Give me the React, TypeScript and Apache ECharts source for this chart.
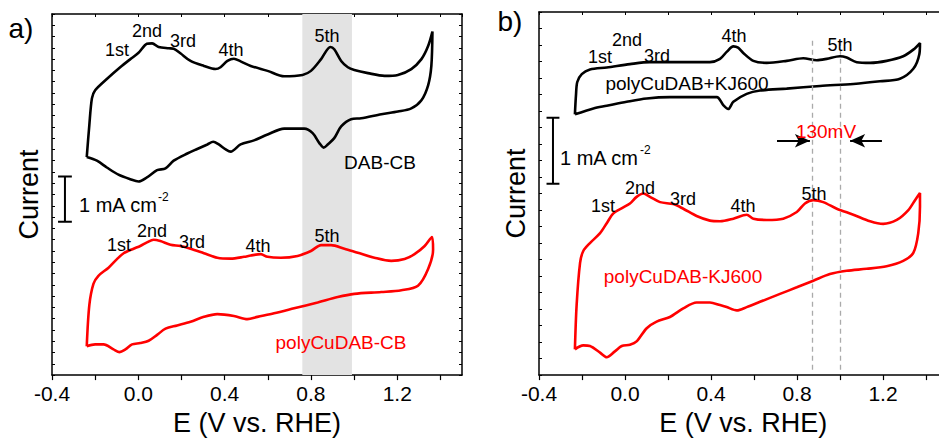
import React, { useEffect, useRef } from "react";
import * as echarts from "echarts";

// ---------- data (E in V vs. RHE, current in mA cm^-2, vertically offset) ----------
// panel a) DAB-CB (black CV loop)
const dabCB: [number, number][] = [
  [-0.239, 4.83], [-0.227, 5.54], [-0.215, 6.13], [-0.2, 6.31], [-0.146, 6.56], [-0.084, 6.82],
  [-0.037, 7.0], [0.001, 7.14], [0.04, 7.34], [0.064, 7.35], [0.094, 7.27], [0.141, 7.24],
  [0.164, 7.23], [0.195, 7.13], [0.242, 6.96], [0.304, 6.85], [0.358, 6.78], [0.381, 6.82],
  [0.413, 6.96], [0.443, 7.01], [0.474, 6.95], [0.521, 6.85], [0.599, 6.74], [0.676, 6.62],
  [0.761, 6.65], [0.8, 6.74], [0.847, 7.0], [0.89, 7.27], [0.908, 7.22], [0.94, 6.96],
  [0.971, 6.82], [1.001, 6.76], [1.064, 6.69], [1.141, 6.63], [1.203, 6.65], [1.265, 6.78],
  [1.312, 7.0], [1.343, 7.29], [1.363, 7.61],
  [1.358, 6.85], [1.343, 6.42], [1.312, 6.09], [1.265, 5.91], [1.203, 5.84], [1.126, 5.78],
  [1.033, 5.69], [0.986, 5.67], [0.94, 5.51], [0.908, 5.25], [0.878, 5.11], [0.859, 5.04],
  [0.839, 5.14], [0.808, 5.36], [0.769, 5.46], [0.676, 5.46], [0.599, 5.33], [0.536, 5.2],
  [0.474, 5.11], [0.428, 4.95], [0.405, 5.0], [0.373, 5.11], [0.347, 5.17], [0.32, 5.11],
  [0.273, 5.01], [0.227, 4.91], [0.164, 4.75], [0.126, 4.58], [0.087, 4.54], [0.04, 4.38],
  [0.001, 4.29], [-0.037, 4.34], [-0.092, 4.44], [-0.146, 4.6], [-0.192, 4.75], [-0.239, 4.83],
];
// panel a) polyCuDAB-CB (red CV loop)
const polyCuDABCB: [number, number][] = [
  [-0.239, 0.64], [-0.227, 1.55], [-0.208, 2.02], [-0.185, 2.2], [-0.138, 2.38], [-0.099, 2.57],
  [-0.068, 2.7], [-0.022, 2.8], [0.009, 2.86], [0.04, 2.94], [0.071, 3.0], [0.102, 2.97],
  [0.149, 2.89], [0.195, 2.86], [0.242, 2.8], [0.304, 2.7], [0.366, 2.6], [0.428, 2.58],
  [0.49, 2.62], [0.521, 2.65], [0.567, 2.68], [0.599, 2.62], [0.66, 2.6], [0.738, 2.64],
  [0.8, 2.75], [0.847, 2.88], [0.893, 2.88], [0.955, 2.8], [1.017, 2.71], [1.094, 2.6],
  [1.172, 2.53], [1.234, 2.57], [1.28, 2.68], [1.327, 2.86], [1.361, 3.06],
  [1.366, 2.78], [1.343, 2.35], [1.296, 1.98], [1.219, 1.88], [1.126, 1.84], [1.001, 1.8],
  [0.924, 1.73], [0.831, 1.61], [0.722, 1.48], [0.629, 1.37], [0.552, 1.29], [0.506, 1.24],
  [0.443, 1.31], [0.366, 1.35], [0.304, 1.29], [0.242, 1.18], [0.18, 1.1], [0.126, 1.03],
  [0.087, 0.89], [0.048, 0.76], [0.009, 0.71], [-0.029, 0.68], [-0.06, 0.57], [-0.087, 0.51],
  [-0.115, 0.57], [-0.161, 0.68], [-0.2, 0.68], [-0.239, 0.64],
];
// panel b) polyCuDAB+KJ600 (black CV loop)
const polyCuDABplusKJ: [number, number][] = [
  [-0.233, 3.95], [-0.228, 4.24], [-0.222, 4.44], [-0.201, 4.56], [-0.163, 4.63], [-0.085, 4.66],
  [0.023, 4.71], [0.116, 4.74], [0.256, 4.74], [0.395, 4.74], [0.442, 4.79], [0.474, 4.9],
  [0.504, 4.98], [0.526, 4.96], [0.55, 4.88], [0.597, 4.76], [0.659, 4.73], [0.752, 4.76],
  [0.829, 4.8], [0.892, 4.77], [0.938, 4.79], [1.0, 4.83], [1.031, 4.81], [1.078, 4.74],
  [1.14, 4.73], [1.217, 4.76], [1.294, 4.83], [1.341, 4.93], [1.372, 5.03],
  [1.369, 4.86], [1.341, 4.64], [1.279, 4.49], [1.186, 4.45], [1.062, 4.41], [0.907, 4.38],
  [0.752, 4.34], [0.628, 4.31], [0.566, 4.26], [0.504, 4.14], [0.48, 4.03], [0.457, 4.09],
  [0.427, 4.21], [0.333, 4.21], [0.209, 4.21], [0.101, 4.19], [0.008, 4.14], [-0.085, 4.08],
  [-0.147, 4.04], [-0.233, 3.95],
];
// panel b) polyCuDAB-KJ600 (red CV loop)
const polyCuDABKJ: [number, number][] = [
  [-0.233, 0.39], [-0.225, 1.06], [-0.209, 1.7], [-0.194, 1.88], [-0.163, 2.0], [-0.116, 2.15],
  [-0.085, 2.3], [-0.054, 2.45], [-0.008, 2.54], [0.023, 2.6], [0.054, 2.7], [0.085, 2.75],
  [0.116, 2.7], [0.163, 2.62], [0.225, 2.59], [0.271, 2.52], [0.333, 2.41], [0.395, 2.34],
  [0.442, 2.33], [0.504, 2.37], [0.566, 2.43], [0.597, 2.37], [0.659, 2.35], [0.736, 2.37],
  [0.799, 2.47], [0.837, 2.6], [0.876, 2.65], [0.922, 2.62], [0.985, 2.52], [1.062, 2.43],
  [1.14, 2.33], [1.201, 2.29], [1.264, 2.35], [1.318, 2.5], [1.349, 2.65], [1.372, 2.76],
  [1.372, 2.55], [1.364, 2.15], [1.341, 1.85], [1.294, 1.73], [1.217, 1.65], [1.124, 1.61],
  [1.031, 1.58], [0.953, 1.53], [0.876, 1.43], [0.799, 1.33], [0.721, 1.23], [0.628, 1.11],
  [0.566, 1.03], [0.52, 0.98], [0.473, 1.03], [0.442, 1.06], [0.395, 1.1], [0.333, 1.1],
  [0.271, 1.01], [0.209, 0.88], [0.147, 0.81], [0.101, 0.71], [0.054, 0.51], [0.023, 0.46],
  [-0.015, 0.44], [-0.047, 0.36], [-0.085, 0.27], [-0.116, 0.34], [-0.163, 0.44], [-0.194, 0.45],
  [-0.233, 0.39],
];
// shaded 5th-peak window (panel a) and 5th-peak positions (panel b)
const band5th = [0.76, 0.99];
const peak5thE = [0.87, 1.0]; // 130 mV shift
const scaleBarLength = 1; // mA cm^-2
const peakLabels = ["1st", "2nd", "3rd", "4th", "5th"];

const FONT = "'Liberation Sans', Arial, Helvetica, sans-serif";

function xAxisLabel(v: number) {
  if (Math.abs(v) < 1e-9) return "0.0";
  const k = Math.round((v + 0.4) / 0.2);
  return k % 2 === 0 && v < 1.3 ? v.toFixed(1) : "";
}

function axesFor(grid: number, yMax: number) {
  const xb = {
    type: "value", gridIndex: grid, position: "bottom", min: -0.4, max: 1.5, interval: 0.2,
    axisLine: { show: true, onZero: false, lineStyle: { color: "#000", width: 1.5 } },
    axisTick: { show: true, inside: false, length: 5, lineStyle: { color: "#000", width: 1.2 } },
    axisLabel: { show: true, fontSize: 21, color: "#000", fontFamily: FONT, margin: 8, formatter: xAxisLabel, showMaxLabel: false },
    splitLine: { show: false },
    name: "E (V vs. RHE)", nameLocation: "middle", nameGap: 33,
    nameTextStyle: { fontSize: 27, color: "#000", fontFamily: FONT },
  };
  const xt = {
    type: "value", gridIndex: grid, position: "top", min: -0.4, max: 1.5, interval: 0.2,
    axisLine: { show: true, onZero: false, lineStyle: { color: "#000", width: 1.5 } },
    axisTick: { show: true, inside: true, length: 3, lineStyle: { color: "#000", width: 1 } },
    axisLabel: { show: false }, splitLine: { show: false },
  };
  const yl = {
    type: "value", gridIndex: grid, position: "left", min: 0, max: yMax, interval: 0.25,
    axisLine: { show: true, onZero: false, lineStyle: { color: "#000", width: 1.5 } },
    axisTick: { show: true, inside: true, length: 3, lineStyle: { color: "#000", width: 1 } },
    axisLabel: { show: false }, splitLine: { show: false },
    name: "Current", nameLocation: "middle", nameGap: 10,
    nameTextStyle: { fontSize: 27, color: "#000", fontFamily: FONT },
  };
  const yr = {
    type: "value", gridIndex: grid, position: "right", min: 0, max: yMax, interval: 0.25,
    axisLine: { show: true, onZero: false, lineStyle: { color: "#000", width: 1.5 } },
    axisTick: { show: true, inside: true, length: 3, lineStyle: { color: "#000", width: 1 } },
    axisLabel: { show: false }, splitLine: { show: false },
  };
  return { x: [xb, xt], y: [yl, yr] };
}

function txt(text: string, x: number, y: number, size: number, color = "#000", align = "center") {
  return {
    type: "text", x, y, silent: true, z: 100,
    style: {
      text, fill: color, fontSize: size, fontFamily: FONT,
      align, textAlign: align, verticalAlign: "middle", textVerticalAlign: "middle",
    },
  };
}

function scaleBar(xc: number, half: number, y0: number) {
  const y1 = y0 + scaleBarLength;
  return [
    [xc - half, y1], [xc + half, y1], [xc, y1], [xc, y0], [xc - half, y0], [xc + half, y0],
  ];
}

export default function App() {
  const ref = useRef<HTMLDivElement>(null);
  useEffect(() => {
    document.body.style.margin = "0";
    const chart = echarts.init(ref.current!, null, { renderer: "svg" });
    const a = axesFor(0, 8);
    const b = axesFor(1, 5.5);
    const line = (color: string, w = 2.6) => ({ color, width: w });
    const labelsA1 = [[117, 50], [147, 31], [183, 41], [231, 50], [327, 36]];
    const labelsA2 = [[119, 245], [152, 231], [192, 242], [258, 246], [327, 236]];
    const labelsB1 = [[600, 57], [627, 40], [657, 56], [734, 36], [840, 45]];
    const labelsB2 = [[603, 206], [640, 188], [683, 199], [743, 206], [814, 194]];
    const option: any = {
      animation: false,
      backgroundColor: "#fff",
      grid: [
        { left: 52, top: 14, width: 410, height: 367 },
        { left: 539, top: 12, width: 408.5, height: 369 },
      ],
      xAxis: [a.x[0], a.x[1], b.x[0], b.x[1]],
      yAxis: [a.y[0], a.y[1], b.y[0], b.y[1]],
      series: [
        {
          type: "line", name: "DAB-CB", xAxisIndex: 0, yAxisIndex: 0, data: dabCB,
          smooth: 0.3, symbol: "none", lineStyle: line("#000"), z: 3,
          markArea: {
            silent: true, itemStyle: { color: "#e3e3e3" },
            data: [[{ xAxis: band5th[0] }, { xAxis: band5th[1] }]],
          },
        },
        {
          type: "line", name: "polyCuDAB-CB", xAxisIndex: 0, yAxisIndex: 0, data: polyCuDABCB,
          smooth: 0.3, symbol: "none", lineStyle: line("#ff0000"), z: 3,
        },
        {
          type: "line", name: "scale a", xAxisIndex: 0, yAxisIndex: 0, data: scaleBar(-0.34, 0.032, 3.4),
          symbol: "none", lineStyle: line("#000", 2), z: 3,
        },
        {
          type: "line", name: "polyCuDAB+KJ600", xAxisIndex: 2, yAxisIndex: 2, data: polyCuDABplusKJ,
          smooth: 0.3, symbol: "none", lineStyle: line("#000"), z: 3,
        },
        {
          type: "line", name: "polyCuDAB-KJ600", xAxisIndex: 2, yAxisIndex: 2, data: polyCuDABKJ,
          smooth: 0.3, symbol: "none", lineStyle: line("#ff0000"), z: 3,
          markLine: {
            silent: true, symbol: ["none", "none"], label: { show: false },
            data: [
              [
                { coord: [peak5thE[0], 0.08], lineStyle: { color: "#aaaaaa", type: [5, 4], width: 1.3 } },
                { coord: [peak5thE[0], 5.08] },
              ],
              [
                { coord: [peak5thE[1], 0.08], lineStyle: { color: "#aaaaaa", type: [5, 4], width: 1.3 } },
                { coord: [peak5thE[1], 5.08] },
              ],
              [
                { coord: [0.707, 3.55], symbol: "none", lineStyle: { color: "#000", type: "solid", width: 2 } },
                { coord: [peak5thE[0] - 0.01, 3.55], symbol: "arrow", symbolSize: [10, 15] },
              ],
              [
                { coord: [1.195, 3.55], symbol: "none", lineStyle: { color: "#000", type: "solid", width: 2 } },
                { coord: [peak5thE[1] + 0.047, 3.55], symbol: "arrow", symbolSize: [10, 15] },
              ],
            ],
          },
        },
        {
          type: "line", name: "scale b", xAxisIndex: 2, yAxisIndex: 2, data: scaleBar(-0.335, 0.03, 2.9),
          symbol: "none", lineStyle: line("#000", 2), z: 3,
        },
      ],
      graphic: [
        txt("a)", 21, 28, 28),
        txt("b)", 510, 21, 28),
        ...peakLabels.map((t, i) => txt(t, labelsA1[i][0], labelsA1[i][1], 18)),
        ...peakLabels.map((t, i) => txt(t, labelsA2[i][0], labelsA2[i][1], 18)),
        ...peakLabels.map((t, i) => txt(t, labelsB1[i][0], labelsB1[i][1], 18)),
        ...peakLabels.map((t, i) => txt(t, labelsB2[i][0], labelsB2[i][1], 18)),
        txt("DAB-CB", 380, 162, 19),
        txt("polyCuDAB-CB", 341, 342, 19, "#ff0000"),
        txt("polyCuDAB+KJ600", 687, 83, 19),
        txt("polyCuDAB-KJ600", 683, 276, 19, "#ff0000"),
        txt("130mV", 826, 131, 19, "#ff0000"),
        txt("1 mA cm", 79, 205, 20, "#000", "left"),
        txt("-2", 158, 197, 12, "#000", "left"),
        txt("1 mA cm", 560, 158, 20, "#000", "left"),
        txt("-2", 640, 150, 12, "#000", "left"),
      ],
    };
    chart.setOption(option);
    return () => chart.dispose();
  }, []);
  return (
    <div style={{ position: "relative", width: 939, height: 441, overflow: "hidden" }}>
      <div ref={ref} style={{ position: "absolute", left: 0, top: 0, width: 960, height: 441 }} />
    </div>
  );
}
